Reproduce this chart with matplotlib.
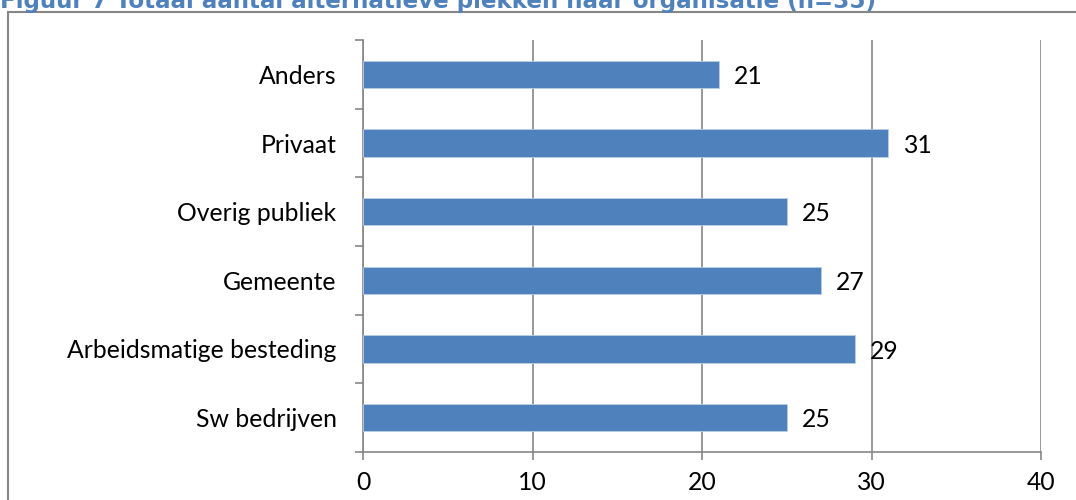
import matplotlib
matplotlib.use("Agg")
import matplotlib.pyplot as plt
from matplotlib.patches import Rectangle
from matplotlib.ticker import FixedLocator

TITLE = "Figuur 7 Totaal aantal alternatieve plekken naar organisatie (n=35)"
categories = ["Sw bedrijven", "Arbeidsmatige besteding", "Gemeente",
              "Overig publiek", "Privaat", "Anders"]
values = [25, 29, 27, 25, 31, 21]
xticks = [0, 10, 20, 30, 40]

BAR, GRID, TITLE_C, INK = "#4f81bd", "#868686", "#4f81bd", "#000000"
FONT = "Lato"
FS = 17.8

W, H = 1076, 500
fig = plt.figure(figsize=(W / 100, H / 100), dpi=100)
fig.patch.set_facecolor("white")

# outer chart frame (runs off the right and bottom of the crop)
fig.patches.append(Rectangle((8 / W, -0.1), 1.2, 1.1 - 12 / H,
                             transform=fig.transFigure, fill=False,
                             edgecolor=GRID, linewidth=1.5))
# title, cut off at the top like the source
fig.text(0 / W, 1 - 8 / H, TITLE, color=TITLE_C, fontsize=16.6,
         fontweight="bold", family="DejaVu Sans", ha="left", va="baseline")

ax = fig.add_axes([363 / W, 1 - 452 / H, (1041 - 363) / W, (452 - 40) / H])
y = list(range(len(categories)))
ax.barh(y, values, height=0.4, color=BAR, edgecolor="#b9cde5",
        linewidth=0.6, zorder=3)
for yi, v in zip(y, values):
    ax.text(v + 0.9, yi - 0.03, str(v), va="center", ha="left",
            fontsize=FS, family=FONT, color=INK)

ax.set_xlim(0, 40)
ax.set_ylim(-0.5, len(categories) - 0.5)
ax.set_xticks(xticks)
ax.set_xticklabels([str(t) for t in xticks], fontsize=FS, family=FONT)
ax.set_yticks(y)
ax.set_yticklabels(categories, fontsize=FS, family=FONT)
ax.yaxis.set_minor_locator(FixedLocator([i - 0.5 for i in range(len(categories) + 1)]))
ax.tick_params(axis="y", which="major", length=0, pad=19)
ax.tick_params(axis="y", which="minor", length=6, color=GRID, width=1.2)
ax.tick_params(axis="x", length=6, color=GRID, width=1.2, pad=8)
ax.grid(axis="x", color=GRID, linewidth=1.2, zorder=0)
for s in ("top", "right"):
    ax.spines[s].set_visible(False)
for s in ("left", "bottom"):
    ax.spines[s].set_color(GRID)
    ax.spines[s].set_linewidth(1.2)

fig.savefig("out.png", dpi=100, facecolor="white")
